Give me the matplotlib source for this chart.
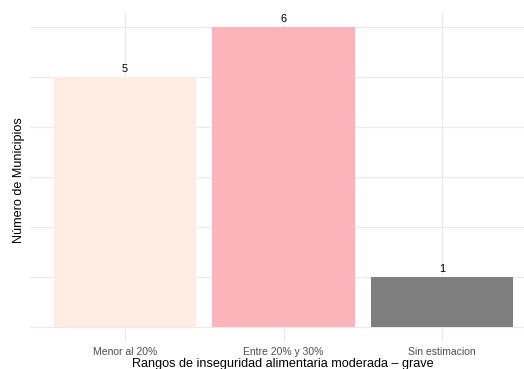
import matplotlib
matplotlib.use("Agg")
import matplotlib.pyplot as plt

categories = ["Menor al 20%", "Entre 20% y 30%", "Sin estimacion"]
values = [5, 6, 1]
colors = ["#FEEBE2", "#FBB4B9", "#7F7F7F"]
x_label = "Rangos de inseguridad alimentaria moderada – grave"
y_label = "Número de Municipios"

plt.rcParams['font.family'] = ['Liberation Sans', 'DejaVu Sans']

W, H = 524, 369
fig = plt.figure(figsize=(W / 72, H / 72), dpi=72)
fig.patch.set_facecolor("white")

left, right, top, bottom = 30, 537, 12, 342
ax = fig.add_axes([left / W, 1 - bottom / H, (right - left) / W, (bottom - top) / H])
ax.set_facecolor("white")

xs = list(range(1, len(categories) + 1))
ax.set_xlim(0.4, len(categories) + 0.6)
ax.set_ylim(-0.3, 6.3)

for y in range(0, 7):
    ax.axhline(y, color="#EBEBEB", lw=1.3, zorder=0)
for x in xs:
    ax.axvline(x, color="#EBEBEB", lw=1.3, zorder=0)

ax.bar(xs, values, width=0.9, color=colors, zorder=2)
for x, v in zip(xs, values):
    ax.annotate(str(v), (x, v), xytext=(0, 3), textcoords="offset points",
                ha="center", va="bottom", fontsize=11, color="black", zorder=3)

for s in ax.spines.values():
    s.set_visible(False)
ax.set_yticks([])
ax.set_xticks(xs)
ax.set_xticklabels(categories, fontsize=10.4, color="#4D4D4D")
ax.tick_params(axis="x", length=0, pad=5)

fig.text(283 / W, 1 - 364 / H, x_label, ha="center", va="center", fontsize=12.6, color="black")
fig.text(19 / W, 1 - 180 / H, y_label, ha="center", va="center", rotation=90, fontsize=12.6, color="black")

fig.savefig("out.png", dpi=72, facecolor="white")
